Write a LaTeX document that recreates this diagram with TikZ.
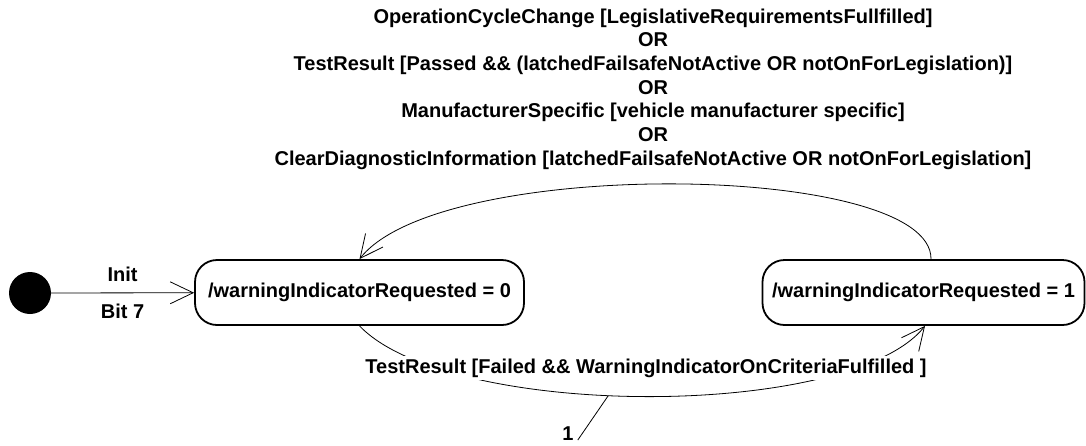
\documentclass[tikz,border=0pt]{standalone}
\usepackage{fontspec}
\setmainfont{Liberation Sans}
\usetikzlibrary{arrows.meta, positioning}

\begin{document}
\begin{tikzpicture}[
    x=1pt, y=-1pt,
    state/.style  = {rectangle, rounded corners=22pt, draw, line width=1.8pt,
                     minimum height=65pt, inner sep=0pt,
                     font=\fontsize{20}{24}\selectfont\bfseries},
    init/.style   = {circle, fill=black, minimum size=42pt, inner sep=0pt},
    lbl/.style    = {font=\fontsize{20}{24}\selectfont\bfseries, inner sep=1pt},
    guard/.style  = {font=\fontsize{20}{23.7}\selectfont\bfseries, align=center},
    arr/.style    = {-{Straight Barb[length=23pt, width=22pt, line width=0.8pt]}, line width=0.8pt},
  ]
  \useasboundingbox (0,0) rectangle (1086,445);

  %% States
  \node[init] (start) at (30,293) {};
  \node[state, minimum width=329pt] (off) at (359.5,292.5) {/warningIndicatorRequested = 0};
  \node[state, minimum width=322pt] (on)  at (923.5,292.5) {/warningIndicatorRequested = 1};

  %% Guard text of the reset transition
  \node[guard] (reset) at (653,89) {OperationCycleChange [LegislativeRequirementsFullfilled]\\
    OR\\
    TestResult [Passed \&\& (latchedFailsafeNotActive OR notOnForLegislation)]\\
    OR\\
    ManufacturerSpecific [vehicle manufacturer specific]\\
    OR\\
    ClearDiagnosticInformation [latchedFailsafeNotActive OR notOnForLegislation]};

  %% Transitions
  \draw[arr] (start) -- node[lbl, above=10pt] {Init} node[lbl, below=10pt] {Bit 7} (off);
  \draw[arr] ([xshift=7.5pt]on.north) .. controls (932,162) and (440,156) .. (off.north);
  \draw[arr] (off.south) .. controls (450,420) and (850,420) .. coordinate[pos=0.445] (onarc) ([xshift=1.5pt]on.south);
  \node[lbl, fill=white, inner sep=3pt] (fail) at (646,368) {TestResult [Failed \&\& WarningIndicatorOnCriteriaFulfilled ]};

  %% Note
  \node[lbl] (one) at (568,434) {1};
  \draw[line width=0.8pt] ([shift={(3pt,2pt)}]one.south east) -- (onarc);

\end{tikzpicture}
\end{document}
